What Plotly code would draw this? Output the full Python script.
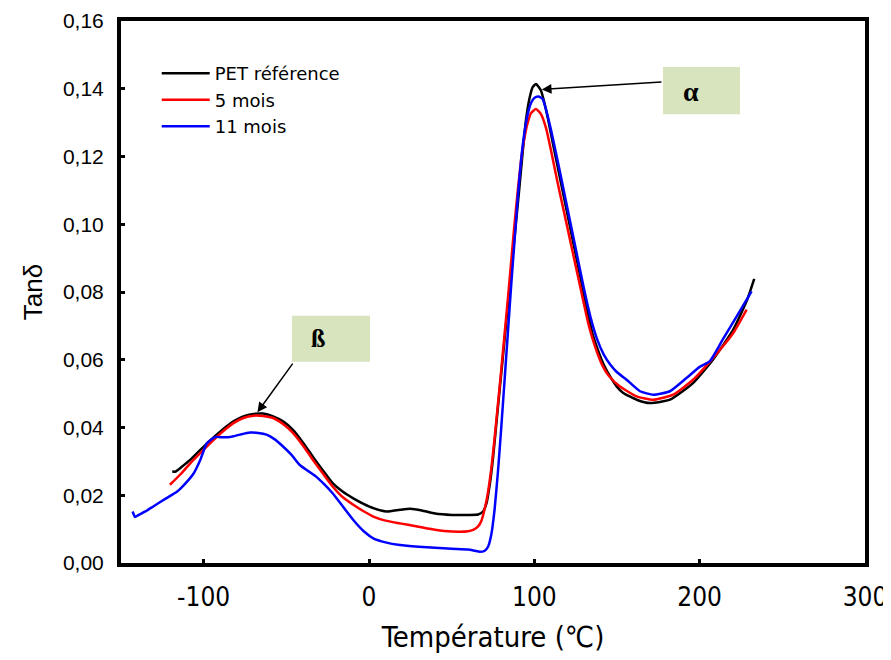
import plotly.graph_objects as go

# PET référence
t_ref = [-119, -117, -113, -108, -102, -96, -89, -82, -76, -70, -64, -58, -52, -46, -40, -34, -28, -22, -16, -9.5, -3, 2.6, 10.7, 18.7, 25, 32, 40, 50, 60, 66, 69, 71, 73, 75, 77, 79, 81, 83, 85, 87, 89, 91, 93, 95, 97, 99, 101, 104, 106, 108.3, 112, 116, 120, 124, 128, 132, 135, 138.7, 142, 145.8, 150, 153.8, 161.9, 170, 182, 196, 208, 220.3, 228.4, 233]
y_ref = [0.027, 0.027, 0.0285, 0.0305, 0.0334, 0.0362, 0.0392, 0.0418, 0.0433, 0.044, 0.0441, 0.0433, 0.0418, 0.0393, 0.0356, 0.0314, 0.0274, 0.0236, 0.0211, 0.0191, 0.0174, 0.0162, 0.0152, 0.0157, 0.016, 0.0155, 0.0146, 0.0142, 0.0142, 0.0143, 0.0152, 0.0175, 0.023, 0.031, 0.041, 0.051, 0.061, 0.071, 0.081, 0.091, 0.101, 0.111, 0.1215, 0.131, 0.137, 0.1405, 0.1414, 0.1395, 0.136, 0.131, 0.122, 0.1125, 0.103, 0.0935, 0.084, 0.0745, 0.068, 0.0625, 0.0585, 0.0551, 0.052, 0.0502, 0.0482, 0.0472, 0.0482, 0.0531, 0.060, 0.0689, 0.0773, 0.0839]

# 5 mois
t_5m = [-120.4, -114, -108, -102, -96, -89, -82, -76, -70, -64, -58, -52, -46, -40, -34, -28, -22, -16, -9.5, -3, 2.6, 10, 18.7, 30, 40, 50, 60, 63, 66, 68, 70, 72, 74, 76, 78, 80, 82, 84, 86, 88, 90, 92, 94, 96, 98, 101, 104, 107, 110, 114, 118, 122, 126, 130, 133, 137, 141, 145, 151.8, 161.9, 172, 184, 196, 208, 220.3, 228.4]
y_5m = [0.0231, 0.0262, 0.0295, 0.0325, 0.0354, 0.0386, 0.0413, 0.0428, 0.0435, 0.0434, 0.0428, 0.041, 0.0384, 0.0347, 0.0305, 0.0265, 0.0226, 0.0195, 0.0172, 0.0152, 0.0137, 0.0125, 0.0117, 0.0107, 0.0098, 0.0093, 0.0094, 0.0098, 0.0108, 0.0125, 0.016, 0.021, 0.028, 0.037, 0.047, 0.057, 0.0675, 0.078, 0.089, 0.100, 0.110, 0.119, 0.1255, 0.130, 0.1328, 0.134, 0.1325, 0.1285, 0.122, 0.1125, 0.1035, 0.0945, 0.0855, 0.0765, 0.070, 0.0635, 0.0585, 0.0553, 0.0521, 0.0492, 0.0482, 0.0497, 0.0541, 0.0605, 0.0679, 0.0748]

# 11 mois
t_11m = [-143, -141.5, -140, -135, -130.5, -123, -116, -111, -106, -102, -98, -93, -88, -84, -78, -72, -67, -62, -57, -52, -47, -42, -37, -32, -27, -22, -16, -9.5, -3, 2.6, 10, 18.7, 30, 40, 50, 60, 64, 67, 70, 72, 74, 76, 78, 80, 82, 84, 86, 88, 90, 92, 94, 96, 98, 100, 102.5, 105, 107, 110, 114, 118, 122, 126, 130, 134, 138, 142, 146, 150, 155.8, 163.9, 172, 182, 192, 200, 206, 214, 222.4, 231.4]
y_11m = [0.0152, 0.0136, 0.014, 0.0153, 0.0167, 0.019, 0.0211, 0.0235, 0.0265, 0.0305, 0.0354, 0.0372, 0.0371, 0.0372, 0.0379, 0.0385, 0.0384, 0.0379, 0.0365, 0.0344, 0.032, 0.029, 0.0272, 0.0255, 0.0232, 0.0206, 0.0168, 0.0127, 0.0093, 0.0073, 0.0061, 0.0053, 0.0048, 0.0045, 0.0042, 0.0040, 0.0036, 0.0033, 0.0036, 0.0048, 0.0085, 0.016, 0.027, 0.040, 0.054, 0.068, 0.082, 0.095, 0.108, 0.119, 0.127, 0.1325, 0.1358, 0.1373, 0.1377, 0.137, 0.134, 0.128, 0.119, 0.1095, 0.100, 0.0905, 0.081, 0.0725, 0.066, 0.0615, 0.0585, 0.0563, 0.0541, 0.0507, 0.0497, 0.0507, 0.0546, 0.0579, 0.0595, 0.066, 0.0728, 0.0802]

series_names = ["PET référence", "5 mois", "11 mois"]
series_colors = ["#000000", "#FF0000", "#0000FF"]

x_ticks = [-100, 0, 100, 200, 300]
y_ticks = [0.00, 0.02, 0.04, 0.06, 0.08, 0.10, 0.12, 0.14, 0.16]

fig = go.Figure()
for name, color, xs, ys in zip(series_names, series_colors, [t_ref, t_5m, t_11m], [y_ref, y_5m, y_11m]):
    fig.add_trace(go.Scatter(x=xs, y=ys, mode="lines", name=name,
                             line=dict(color=color, width=2.5, shape="spline", smoothing=0.5)))

box_fill = "#D7E4BD"
# beta box
fig.add_shape(type="rect", xref="x", yref="y", x0=-46.6, x1=0.6, y0=0.0594, y1=0.0730,
              fillcolor=box_fill, line=dict(width=0), layer="above")
fig.add_annotation(x=-31, y=0.0662, xref="x", yref="y", text="<b>ß</b>", showarrow=False,
                   font=dict(family="Liberation Serif, serif", size=26, color="black"))
fig.add_annotation(x=-67.5, y=0.0445, ax=-45.5, ay=0.0593, xref="x", yref="y", axref="x", ayref="y",
                   text="", showarrow=True, arrowhead=2, arrowsize=1.3, arrowwidth=1.5, arrowcolor="black")
# alpha box
fig.add_shape(type="rect", xref="x", yref="y", x0=177.8, x1=224.4, y0=0.1325, y1=0.1464,
              fillcolor=box_fill, line=dict(width=0), layer="above")
fig.add_annotation(x=195, y=0.1392, xref="x", yref="y", text="<b>α</b>", showarrow=False,
                   font=dict(family="Liberation Serif, serif", size=28, color="black"))
fig.add_annotation(x=104.5, y=0.1398, ax=177.8, ay=0.1420, xref="x", yref="y", axref="x", ayref="y",
                   text="", showarrow=True, arrowhead=2, arrowsize=1.3, arrowwidth=1.5, arrowcolor="black")

narrow = "Liberation Sans Narrow, Arial Narrow, DejaVu Sans Condensed, sans-serif"
regular = "Liberation Sans, Arial, sans-serif"

fig.update_layout(
    width=883, height=652,
    margin=dict(l=113, r=26, t=13, b=97, autoexpand=False),
    paper_bgcolor="white", plot_bgcolor="white",
    separators=", ",
    showlegend=True,
    legend=dict(x=0.048, y=0.937, xanchor="left", yanchor="top", bgcolor="rgba(0,0,0,0)",
                font=dict(family="DejaVu Sans, sans-serif", size=18, color="black"),
                itemwidth=48, tracegroupgap=0),
    font=dict(family=regular, color="black"),
)
fig.update_xaxes(range=[-150, 300], tickvals=x_ticks, ticktext=[str(v) for v in x_ticks],
                 automargin=False, ticklabeloverflow="allow",
                 showgrid=False, zeroline=False, showline=True, linecolor="black", linewidth=4, mirror=True,
                 ticks="inside", ticklen=4, tickwidth=3, tickcolor="black",
                 tickfont=dict(family=narrow, size=26),
                 ticklabelstandoff=8,
                 title=dict(text="Température (℃)", standoff=16,
                            font=dict(family=narrow, size=29)))
fig.update_yaxes(range=[0, 0.16], tickvals=y_ticks, tickformat=".2f",
                 automargin=False,
                 showgrid=False, zeroline=False, showline=True, linecolor="black", linewidth=4, mirror=True,
                 ticks="inside", ticklen=4, tickwidth=3, tickcolor="black",
                 tickfont=dict(family=regular, size=21),
                 ticklabelstandoff=9,
                 title=dict(text="Tanδ", standoff=14,
                            font=dict(family=regular, size=26)))

fig.write_html("out.html")
